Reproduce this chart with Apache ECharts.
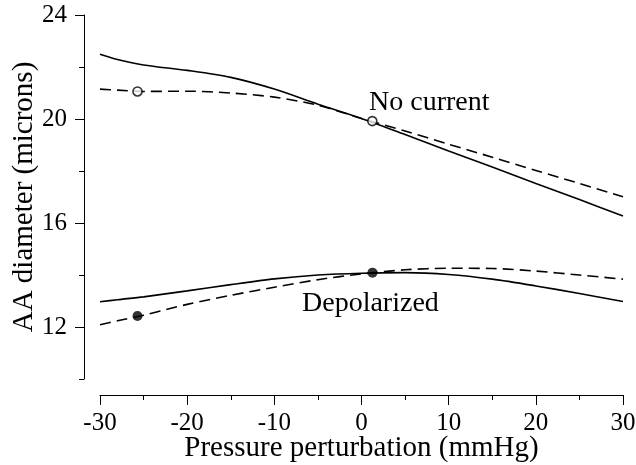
<!DOCTYPE html>
<html>
<head>
<meta charset="utf-8">
<style>
  html, body { margin: 0; padding: 0; background: #fff; }
  #chart { width: 636px; height: 465px; }
</style>
<script src="https://cdn.jsdelivr.net/npm/echarts@6/dist/echarts.min.js"></script>
</head>
<body>
<div id="chart"></div>
<script>
// Pressure perturbation (mmHg) sample positions shared by every curve
const pressure = [-30, -28, -25, -20, -15, -10, -5, 0, 5, 10, 15, 20, 25, 30];

// AA diameter (microns)
const noCurrentSolid  = [22.49, 22.29, 22.08, 21.87, 21.60, 21.15, 20.57, 20.02, 19.40, 18.77, 18.15, 17.52, 16.90, 16.27];
const noCurrentDashed = [21.15, 21.11, 21.06, 21.07, 21.00, 20.84, 20.53, 20.02, 19.54, 19.03, 18.53, 18.02, 17.52, 17.01];
const depolSolid      = [12.97, 13.05, 13.16, 13.39, 13.63, 13.85, 14.00, 14.07, 14.09, 14.02, 13.84, 13.58, 13.29, 12.98];
const depolDashed     = [12.09, 12.24, 12.45, 12.87, 13.22, 13.53, 13.82, 14.04, 14.20, 14.26, 14.25, 14.15, 14.00, 13.84];

// Highlighted operating points
const noCurrentPoints = [[-25.7, 21.06], [1.24, 19.92]];
const depolPoints     = [[-25.7, 12.42], [1.26, 14.09]];

// Axis ticks
const xTicks = { min: -30, max: 30, step: 10 };
const yMajorTicks = [12, 16, 20, 24];
const yMinorTicks = [10, 14, 18, 22];

const FONT = '"Liberation Serif", "Times New Roman", serif';

function pairs(xs, ys) { return xs.map((x, i) => [x, ys[i]]); }

function curve(name, ys, dashed) {
  return {
    name, type: 'line', xAxisIndex: 0, yAxisIndex: 0,
    data: pairs(pressure, ys),
    smooth: 0.3, showSymbol: false, symbol: 'none',
    lineStyle: { color: '#000', width: 1.6, type: dashed ? [11, 6] : 'solid' },
    silent: true, z: 2
  };
}

const chart = echarts.init(document.getElementById('chart'), null, { renderer: 'canvas' });

chart.setOption({
  animation: false,
  backgroundColor: '#fff',
  textStyle: { fontFamily: FONT, color: '#000' },
  grid: { left: 100, right: 13, top: 15, bottom: 86, containLabel: false, outerBoundsMode: 'none' },
  xAxis: [{
    type: 'value', min: xTicks.min, max: xTicks.max, interval: xTicks.step,
    offset: 16,
    name: 'Pressure perturbation (mmHg)', nameLocation: 'middle', nameGap: 39, nameMoveOverlap: false,
    nameTextStyle: { fontFamily: FONT, fontSize: 29, color: '#000' },
    axisLine: { show: true, onZero: false, lineStyle: { color: '#000', width: 1 } },
    axisTick: { show: true, inside: false, length: 10, lineStyle: { color: '#000', width: 1 } },
    minorTick: { show: true, splitNumber: 2, length: 5, lineStyle: { color: '#000', width: 1 } },
    axisLabel: { fontFamily: FONT, fontSize: 25, color: '#000', margin: 16 },
    splitLine: { show: false }, minorSplitLine: { show: false }
  }],
  yAxis: [{
    type: 'value', min: 10, max: 24, interval: 2,
    offset: 16,
    name: 'AA diameter (microns)', nameLocation: 'middle', nameGap: 45, nameRotate: 90, nameMoveOverlap: false,
    nameTextStyle: { fontFamily: FONT, fontSize: 29, color: '#000' },
    axisLine: { show: true, onZero: false, lineStyle: { color: '#000', width: 1 } },
    axisTick: { show: true, inside: false, length: 9, customValues: yMajorTicks, lineStyle: { color: '#000', width: 1 } },
    axisLabel: { fontFamily: FONT, fontSize: 25, color: '#000', margin: 17, customValues: yMajorTicks },
    splitLine: { show: false }
  }, {
    // short ticks between the labelled ones
    type: 'value', min: 10, max: 24, interval: 2, position: 'left',
    offset: 16,
    axisLine: { show: false, onZero: false },
    axisTick: { show: true, inside: false, length: 5, customValues: yMinorTicks, lineStyle: { color: '#000', width: 1 } },
    axisLabel: { show: false },
    splitLine: { show: false }
  }],
  series: [
    curve('No current (solid)', noCurrentSolid, false),
    curve('No current (dashed)', noCurrentDashed, true),
    curve('Depolarized (solid)', depolSolid, false),
    curve('Depolarized (dashed)', depolDashed, true),
    {
      name: 'No current points', type: 'scatter', data: noCurrentPoints,
      symbol: 'circle', symbolSize: 9,
      itemStyle: { color: '#fff', borderColor: '#000', borderWidth: 1.6 }, z: 5, silent: true
    },
    {
      name: 'Depolarized points', type: 'scatter', data: depolPoints,
      symbol: 'circle', symbolSize: 10,
      itemStyle: { color: '#000' }, z: 5, silent: true
    }
  ],
  graphic: [
    { type: 'text', left: 369, top: 89, style: { text: 'No current', font: '28px ' + FONT, fill: '#000' } },
    { type: 'text', left: 302, top: 290, style: { text: 'Depolarized', font: '28px ' + FONT, fill: '#000' } }
  ]
});
</script>
</body>
</html>
